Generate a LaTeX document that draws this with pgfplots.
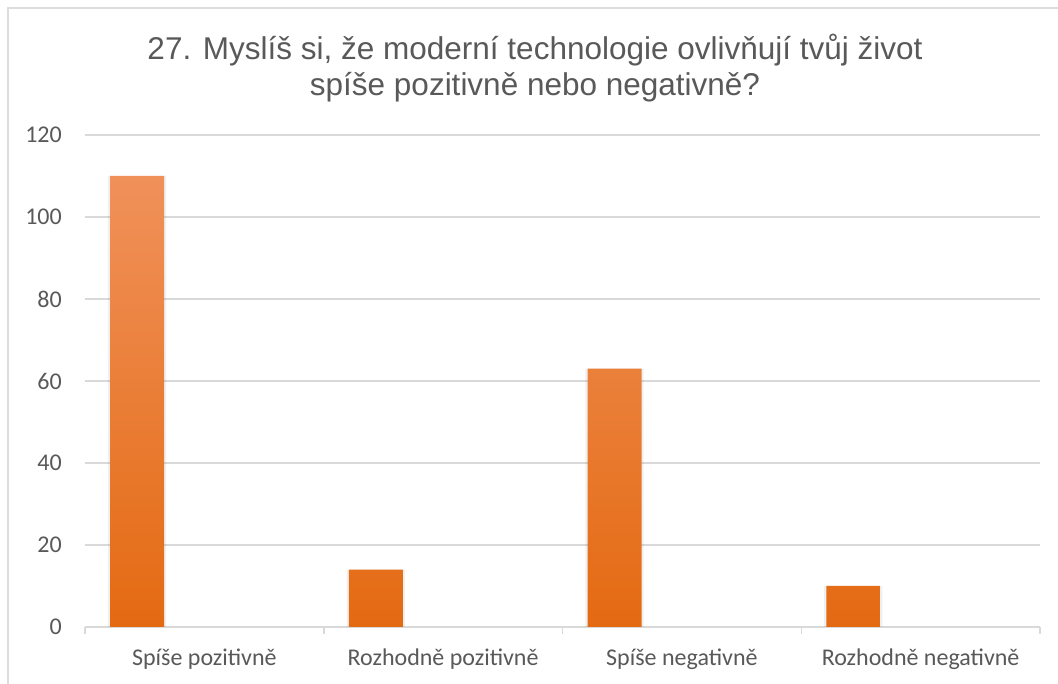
\documentclass[border=0pt]{standalone}
\usepackage{pgfplots}
\pgfplotsset{compat=1.18}
\usepackage{fontspec}
\setmainfont{Carlito}
\newfontfamily\titlefont{Liberation Sans}
\definecolor{gridgray}{HTML}{D9D9D9}
\definecolor{framegray}{HTML}{DDDDDD}
\definecolor{labelgray}{HTML}{595959}
\definecolor{bartop}{HTML}{F0915A}
\definecolor{barmid}{HTML}{F67F26}
\definecolor{barbot}{HTML}{E46A12}
\begin{document}
\begin{tikzpicture}
\useasboundingbox[fill=white] (0pt,0pt) rectangle (1058pt,684pt);
\draw[framegray, line width=1.5pt] (8pt,0pt) -- (8pt,676pt) -- (1058pt,676pt);
\node[anchor=base, font=\titlefont\fontsize{31.5}{36}\selectfont, text=labelgray, inner sep=0pt] at (535pt,624pt) {27. Myslíš si, že moderní technologie ovlivňují tvůj život};
\node[anchor=base, font=\titlefont\fontsize{31.5}{36}\selectfont, text=labelgray, inner sep=0pt] at (535pt,588pt) {spíše pozitivně nebo negativně?};
\begin{axis}[
  at={(85pt,57pt)}, anchor=south west,
  scale only axis, width=955pt, height=492pt,
  xmin=-0.5, xmax=3.5, ymin=0, ymax=120,
  axis x line*=bottom, axis y line*=left,
  y axis line style={draw=none},
  x axis line style={draw=gridgray, line width=1.5pt},
  ytick={0,20,...,120},
  xtick={0,1,2,3},
  xticklabels={Spíše pozitivně, Rozhodně pozitivně, Spíše negativně, Rozhodně negativně},
  minor xtick={-0.5,0.5,1.5,2.5,3.5},
  major tick length=0pt,
  minor tick length=7pt,
  tick align=outside,
  minor tick style={draw=gridgray, line width=1.5pt},
  ymajorgrids,
  grid style={draw=gridgray, line width=1.3pt},
  /pgf/number format/assume math mode=true,
  ticklabel style={font=\fontsize{24}{28}\selectfont, text=labelgray, inner sep=0pt},
  yticklabel style={anchor=east, xshift=-23pt},
  xticklabel style={anchor=base, yshift=-39pt},
  clip=false,
]
\addplot[ybar, bar width=0.244, draw=none, fill=black, fill opacity=0.06] coordinates {(-0.282,110) (0.718,14) (1.718,63) (2.718,10)};
\addplot[ybar, bar width=0.226, draw=none, top color=bartop, middle color=barmid, bottom color=barbot] coordinates {(-0.282,110) (0.718,14) (1.718,63) (2.718,10)};
\end{axis}
\end{tikzpicture}
\end{document}
